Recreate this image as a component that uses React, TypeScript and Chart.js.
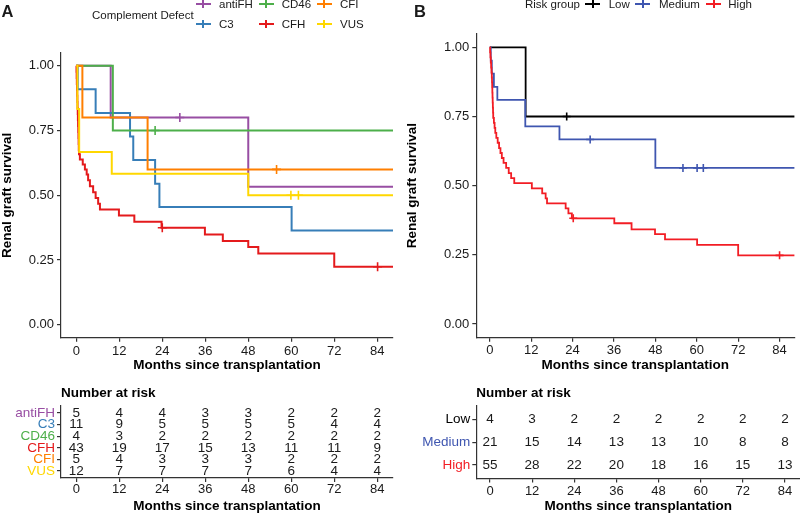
import React, { useEffect, useRef } from "react";
import { Chart, registerables } from "chart.js";

Chart.register(...registerables);

const FONT = "'Liberation Sans', Arial, Helvetica, sans-serif";
Chart.defaults.font.family = FONT;

// ---------------- data ----------------
const monthTicks = [0, 12, 24, 36, 48, 60, 72, 84];
const survivalTicks = [0, 0.25, 0.5, 0.75, 1];

// Panel A – complement defect
const defectGroups = ["antiFH", "C3", "CD46", "CFH", "CFI", "VUS"];
const defectColors = ["#984EA3", "#377EB8", "#4DAF4A", "#E41A1C", "#FF7F00", "#FFD700"];

// Kaplan–Meier steps: [month, survival after the step]
const kmAntiFH = [[0, 1], [9.6, 0.8], [48, 0.533], [95, 0.533]];
const censAntiFH = [[28.9, 0.8]];
const kmC3 = [[0, 1], [0.4, 0.909], [5.4, 0.818], [15, 0.727], [15.9, 0.636], [22, 0.545], [23.2, 0.455], [60.1, 0.364], [95, 0.364]];
const censC3: number[][] = [];
const kmCD46 = [[0, 1], [10.2, 0.75], [95, 0.75]];
const censCD46 = [[22, 0.75]];
const kmCFH = [
  [0, 1], [0.05, 0.977], [0.1, 0.953], [0.15, 0.93], [0.2, 0.907], [0.25, 0.884], [0.3, 0.86],
  [0.35, 0.837], [0.4, 0.814], [0.45, 0.791], [0.5, 0.767], [0.55, 0.744], [0.6, 0.721],
  [0.65, 0.698], [0.7, 0.674], [0.75, 0.658], [1.0, 0.638], [1.8, 0.619], [2.4, 0.6],
  [2.9, 0.58], [3.3, 0.558], [3.8, 0.535], [4.7, 0.512], [5.4, 0.49], [6.1, 0.467],
  [6.6, 0.445], [11.9, 0.422], [16.2, 0.398], [23.8, 0.375], [35.9, 0.349], [40.9, 0.324],
  [48, 0.3], [50.8, 0.275], [72, 0.224], [95, 0.224],
];
const censCFH = [[24, 0.375], [84.1, 0.224]];
const kmCFI = [[0, 1], [1.7, 0.8], [19.9, 0.6], [95, 0.6]];
const censCFI = [[55.9, 0.6]];
const kmVUS = [[0, 1], [0.3, 0.833], [0.8, 0.667], [9.9, 0.583], [48, 0.5], [95, 0.5]];
const censVUS = [[59.9, 0.5], [62, 0.5]];

const riskAntiFH = [5, 4, 4, 3, 3, 2, 2, 2];
const riskC3 = [11, 9, 5, 5, 5, 5, 4, 4];
const riskCD46 = [4, 3, 2, 2, 2, 2, 2, 2];
const riskCFH = [43, 19, 17, 15, 13, 11, 11, 9];
const riskCFI = [5, 4, 3, 3, 3, 2, 2, 2];
const riskVUS = [12, 7, 7, 7, 7, 6, 4, 4];

// Panel B – risk group
const riskGroups = ["Low", "Medium", "High"];
const riskColors = ["#000000", "#3F56B0", "#F21D24"];

const kmLow = [[0, 1], [10.4, 0.75], [95, 0.75]];
const censLow = [[22.3, 0.75]];
const kmMedium = [[0, 1], [0.3, 0.952], [0.6, 0.905], [1.2, 0.857], [2.2, 0.81], [10.3, 0.714], [20.2, 0.667], [48, 0.564], [95, 0.564]];
const censMedium = [[29.1, 0.667], [56, 0.564], [60.1, 0.564], [61.9, 0.564]];
const kmHigh = [
  [0, 1], [0.1, 0.982], [0.2, 0.964], [0.3, 0.945], [0.4, 0.927], [0.5, 0.909], [0.6, 0.891],
  [0.65, 0.873], [0.7, 0.855], [0.75, 0.836], [0.8, 0.818], [0.85, 0.8], [0.9, 0.782],
  [0.95, 0.764], [1.0, 0.745], [1.2, 0.727], [1.4, 0.709], [1.6, 0.691], [1.9, 0.673],
  [2.3, 0.655], [2.7, 0.636], [3.1, 0.618], [3.5, 0.6], [4.0, 0.582], [4.75, 0.564],
  [5.5, 0.545], [6.2, 0.527], [7.1, 0.509], [12.2, 0.49], [15.2, 0.472], [16.2, 0.454],
  [16.6, 0.436], [22.0, 0.418], [22.8, 0.4], [23.8, 0.382], [36.1, 0.364], [41.1, 0.342],
  [47.9, 0.325], [50.8, 0.306], [60.1, 0.286], [72.0, 0.248], [95, 0.248],
];
const censHigh = [[24.2, 0.382], [84, 0.248]];

const riskLow = [4, 3, 2, 2, 2, 2, 2, 2];
const riskMedium = [21, 15, 14, 13, 13, 10, 8, 8];
const riskHigh = [55, 28, 22, 20, 18, 16, 15, 13];

// ---------------- chart builders ----------------
const AXIS = "#333333";
const TEXT = "#1a1a1a";

function xScale(o: any) {
  return {
    type: "linear",
    min: o.xMin,
    max: o.xMax,
    afterBuildTicks: (s: any) => {
      s.ticks = monthTicks.map((v) => ({ value: v }));
    },
    ticks: { callback: (v: any) => String(v), color: TEXT, font: { size: 13 }, padding: o.xTickPad, autoSkip: false, maxRotation: 0 },
    grid: { display: true, drawOnChartArea: false, drawTicks: true, tickLength: 4, color: AXIS, lineWidth: 1.2 },
    border: { display: true, color: AXIS, width: 1.2 },
    title: {
      display: true,
      text: "Months since transplantation",
      color: "#000",
      font: { size: 13.5, weight: "bold" },
      padding: { top: 0, bottom: o.xTitlePad },
    },
    afterFit: (s: any) => {
      s.height = o.xAxisHeight;
    },
  };
}

function kmConfig(o: any) {
  const n = o.curves.length;
  const datasets: any[] = [];
  o.curves.forEach((c: number[][], i: number) => {
    datasets.push({
      data: c.map(([x, y]) => ({ x, y })),
      stepped: "before",
      borderColor: o.colors[i],
      backgroundColor: o.colors[i],
      borderWidth: o.lineWidth,
      pointRadius: 0,
      fill: false,
      order: n - i,
    });
    datasets.push({
      data: o.censors[i].map(([x, y]: number[]) => ({ x, y })),
      showLine: false,
      pointStyle: "cross",
      pointRadius: o.censorRadius,
      pointBorderWidth: 1.6,
      pointBorderColor: o.colors[i],
      borderColor: o.colors[i],
      order: n - i,
    });
  });
  return {
    type: "line",
    data: { datasets },
    options: {
      responsive: false,
      animation: false,
      events: [],
      layout: { padding: { top: o.padTop, right: o.padRight, left: 0, bottom: 0 } },
      plugins: { legend: { display: false }, tooltip: { enabled: false } },
      scales: {
        x: xScale(o),
        y: {
          type: "linear",
          min: -0.05,
          max: 1.05,
          afterBuildTicks: (s: any) => {
            s.ticks = survivalTicks.map((v) => ({ value: v }));
          },
          ticks: { callback: (v: any) => Number(v).toFixed(2), color: TEXT, font: { size: 13 }, padding: 3 },
          grid: { display: true, drawOnChartArea: false, tickLength: 4, color: AXIS, lineWidth: 1.2 },
          border: { display: true, color: AXIS, width: 1.2 },
          title: {
            display: true,
            text: "Renal graft survival",
            color: "#000",
            font: { size: 13.5, weight: "bold" },
            padding: { top: o.yTitlePad, bottom: 0 },
          },
          afterFit: (s: any) => {
            s.width = o.yAxisWidth;
          },
        },
      },
    },
  };
}

function tableConfig(o: any) {
  const plugin = {
    id: "riskTable",
    afterDraw(chart: any) {
      const { ctx, chartArea } = chart;
      const xs = chart.scales.x;
      const ys = chart.scales.y;
      ctx.save();
      ctx.fillStyle = TEXT;
      ctx.font = `13.5px ${FONT}`;
      ctx.textAlign = "center";
      ctx.textBaseline = "middle";
      o.rows.forEach((row: number[], i: number) => {
        row.forEach((n: number, j: number) => {
          ctx.fillText(String(n), xs.getPixelForValue(monthTicks[j]), ys.getPixelForValue(i));
        });
      });
      ctx.fillStyle = "#000";
      ctx.font = `bold 13.5px ${FONT}`;
      ctx.textAlign = "left";
      ctx.textBaseline = "alphabetic";
      ctx.fillText("Number at risk", chartArea.left, o.titleBaseline);
      ctx.restore();
    },
  };
  const nRows = o.rows.length;
  return {
    type: "line",
    data: { datasets: [] },
    plugins: [plugin],
    options: {
      responsive: false,
      animation: false,
      events: [],
      layout: { padding: { top: o.padTop, right: o.padRight, left: 0, bottom: 0 } },
      plugins: { legend: { display: false }, tooltip: { enabled: false } },
      scales: {
        x: xScale(o),
        y: {
          type: "linear",
          reverse: true,
          min: -0.6,
          max: nRows - 0.4,
          afterBuildTicks: (s: any) => {
            s.ticks = o.labels.map((_: string, i: number) => ({ value: i }));
          },
          ticks: {
            callback: (v: any) => o.labels[Math.round(Number(v))],
            color: (c: any) => o.labelColors[Math.round(c.tick ? c.tick.value : c.index)] || TEXT,
            font: { size: 13.5 },
            padding: 2,
            autoSkip: false,
          },
          grid: { display: true, drawOnChartArea: false, tickLength: 4, color: AXIS, lineWidth: 1.2 },
          border: { display: true, color: AXIS, width: 1.2 },
          afterFit: (s: any) => {
            s.width = o.yAxisWidth;
          },
        },
      },
    },
  };
}

function ChartCanvas({ left, top, width, height, make }: any) {
  const ref = useRef<HTMLCanvasElement>(null);
  useEffect(() => {
    const chart = new Chart(ref.current as HTMLCanvasElement, make());
    return () => chart.destroy();
  }, []);
  return (
    <canvas
      ref={ref}
      width={width}
      height={height}
      style={{ position: "absolute", left, top, width, height }}
    />
  );
}

function Key({ cx, cy, color }: any) {
  return (
    <div style={{ position: "absolute", left: cx - 7.5, top: cy - 1, width: 15, height: 2, background: color }}>
      <div style={{ position: "absolute", left: 6.5, top: -3, width: 2, height: 8, background: color }} />
    </div>
  );
}

function Label({ x, cy, text, size = 11.5, bold = false }: any) {
  const h = 20;
  return (
    <div
      style={{
        position: "absolute",
        left: x,
        top: cy - h / 2,
        height: h,
        lineHeight: `${h}px`,
        fontSize: size,
        fontWeight: bold ? "bold" : "normal",
        whiteSpace: "nowrap",
        color: TEXT,
      }}
    >
      {text}
    </div>
  );
}

export default function App() {
  useEffect(() => {
    document.body.style.margin = "0";
  }, []);

  const colKeyA = [203, 266, 324];
  const colTextA = [219, 281.7, 340];
  const rowA = [4.3, 24];
  const keyB = [592.5, 642.5, 713.5];
  const textB = [608.7, 659, 728.3];

  return (
    <div
      style={{
        position: "fixed",
        left: 0,
        top: 0,
        width: 800,
        height: 514,
        background: "#fff",
        fontFamily: FONT,
        overflow: "hidden",
      }}
    >
      <ChartCanvas
        left={0}
        top={0}
        width={400}
        height={380}
        make={() =>
          kmConfig({
            curves: [kmAntiFH, kmC3, kmCD46, kmCFH, kmCFI, kmVUS],
            censors: [censAntiFH, censC3, censCD46, censCFH, censCFI, censVUS],
            colors: defectColors,
            xMin: -4.27,
            xMax: 88.4,
            yAxisWidth: 61,
            xAxisHeight: 42.2,
            padTop: 52.8,
            padRight: 7,
            lineWidth: 2,
            censorRadius: 4.5,
            yTitlePad: -1,
            xTitlePad: 6.4,
            xTickPad: 2,
          })
        }
      />
      <ChartCanvas
        left={400}
        top={0}
        width={400}
        height={380}
        make={() =>
          kmConfig({
            curves: [kmLow, kmMedium, kmHigh],
            censors: [censLow, censMedium, censHigh],
            colors: riskColors,
            xMin: -3.9,
            xMax: 88.3,
            yAxisWidth: 76.3,
            xAxisHeight: 42.2,
            padTop: 33.5,
            padRight: 0,
            lineWidth: 1.8,
            censorRadius: 4,
            yTitlePad: 3.7,
            xTitlePad: 6.4,
            xTickPad: 0.5,
          })
        }
      />
      <ChartCanvas
        left={0}
        top={380}
        width={400}
        height={134}
        make={() =>
          tableConfig({
            rows: [riskAntiFH, riskC3, riskCD46, riskCFH, riskCFI, riskVUS],
            labels: defectGroups,
            labelColors: defectColors,
            xMin: -4.27,
            xMax: 88.4,
            yAxisWidth: 61,
            xAxisHeight: 36,
            padTop: 26,
            padRight: 7,
            xTitlePad: 0,
            xTickPad: 0,
            titleBaseline: 17.3,
          })
        }
      />
      <ChartCanvas
        left={400}
        top={380}
        width={400}
        height={134}
        make={() =>
          tableConfig({
            rows: [riskLow, riskMedium, riskHigh],
            labels: riskGroups,
            labelColors: riskColors,
            xMin: -3.9,
            xMax: 88.3,
            yAxisWidth: 76.3,
            xAxisHeight: 35.5,
            padTop: 26,
            padRight: 0,
            xTitlePad: 0,
            xTickPad: 1,
            titleBaseline: 17.3,
          })
        }
      />

      {/* panel letters */}
      <Label x={1.5} cy={10.5} text="A" size={16.5} bold />
      <Label x={414} cy={10.5} text="B" size={16.5} bold />

      {/* legend A */}
      <Label x={92} cy={14.6} text="Complement Defect" />
      {defectGroups.map((g, i) => {
        const col = Math.floor(i / 2);
        const row = i % 2;
        return (
          <React.Fragment key={g}>
            <Key cx={colKeyA[col]} cy={rowA[row]} color={defectColors[i]} />
            <Label x={colTextA[col]} cy={rowA[row]} text={g} />
          </React.Fragment>
        );
      })}

      {/* legend B */}
      <Label x={525} cy={4.3} text="Risk group" />
      {riskGroups.map((g, i) => (
        <React.Fragment key={g}>
          <Key cx={keyB[i]} cy={4.3} color={riskColors[i]} />
          <Label x={textB[i]} cy={4.3} text={g} />
        </React.Fragment>
      ))}
    </div>
  );
}
